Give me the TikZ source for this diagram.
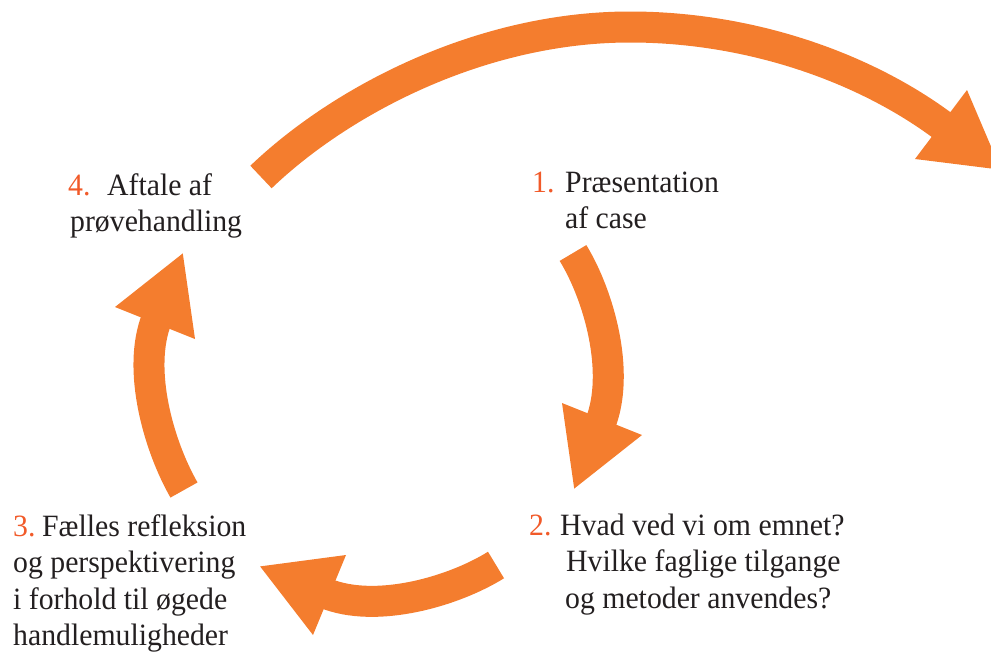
\documentclass[tikz,border=0pt]{standalone}
\usepackage{fontspec}
\setmainfont{Liberation Serif}[FakeStretch=0.96]
\definecolor{arr}{RGB}{244,125,46}
\definecolor{num}{RGB}{241,90,41}
\definecolor{txt}{RGB}{35,31,32}
\newcommand\numlab[2]{\makebox[#2][l]{\textcolor{num}{#1}}}
\begin{document}
\begin{tikzpicture}[x=1pt,y=-1pt,
  lab/.style={inner sep=0pt, anchor=base west, text=txt, font=\fontsize{31}{36.5}\selectfont},
  shaft/.style={draw=arr, line width=31pt, line cap=butt},
  head/.style={fill=arr}]
\useasboundingbox (0,0) rectangle (991,651);
\clip (0,0) rectangle (991,651);

% labels
\node[lab] (l4) at (68,195) {\begin{tabular}[t]{@{}l@{}}\numlab{4.}{39pt}Aftale af\\\hspace*{2pt}prøvehandling\end{tabular}};
\node[lab] (l1) at (532,192.3) {\begin{tabular}[t]{@{}l@{}}\numlab{1.}{33pt}Præsentation\\\hspace*{33pt}af case\end{tabular}};
\node[lab] (l2) at (529,535) {\begin{tabular}[t]{@{}l@{}}\numlab{2.}{31pt}Hvad ved vi om emnet?\\\hspace*{37pt}Hvilke faglige tilgange\\\hspace*{36pt}og metoder anvendes?\end{tabular}};
\node[lab] (l3) at (13,536) {\begin{tabular}[t]{@{}l@{}}\numlab{3.}{29pt}Fælles refleksion\\og perspektivering\\i forhold til øgede\\handlemuligheder\end{tabular}};

% arrow 1 -> 2
\coordinate (a1t) at (573,253);
\coordinate (a1s) at (600.2,423.7);
\coordinate (a1l) at (562,403);
\coordinate (a1p) at (574.2,488.6);
\coordinate (a1r) at (642,435);
\draw[shaft] (a1t) .. controls (599,295.5) and (620.6,372.5) .. (a1s);
\fill[head] (a1l) -- (a1p) -- (a1r) -- cycle;

% arrow 2 -> 3
\coordinate (a2t) at (496,565);
\coordinate (a2s) at (324.9,593.1);
\coordinate (a2l) at (346,555);
\coordinate (a2p) at (260.1,566.4);
\coordinate (a2r) at (313,635);
\draw[shaft] (a2t) .. controls (453.5,591.5) and (375.8,614.1) .. (a2s);
\fill[head] (a2l) -- (a2p) -- (a2r) -- cycle;

% arrow 3 -> 4
\coordinate (a3t) at (184,490);
\coordinate (a3s) at (156.9,318.4);
\coordinate (a3l) at (115,307);
\coordinate (a3p) at (182.8,253.4);
\coordinate (a3r) at (195,339);
\draw[shaft] (a3t) .. controls (159,446.5) and (136.5,369.4) .. (a3s);
\fill[head] (a3l) -- (a3p) -- (a3r) -- cycle;

% arrow 4 -> out
\coordinate (a4t) at (261,177);
\coordinate (a4m) at (630,27);
\coordinate (a4s) at (945,127.5);
\coordinate (a4l) at (915,159);
\coordinate (a4p) at (1000.9,169.7);
\coordinate (a4r) at (967,90);
\draw[shaft] (a4t) .. controls (340.2,101.1) and (480,27) .. (a4m)
  .. controls (750,27) and (865.1,67.3) .. (a4s);
\fill[head] (a4l) -- (a4p) -- (a4r) -- cycle;
\end{tikzpicture}
\end{document}
